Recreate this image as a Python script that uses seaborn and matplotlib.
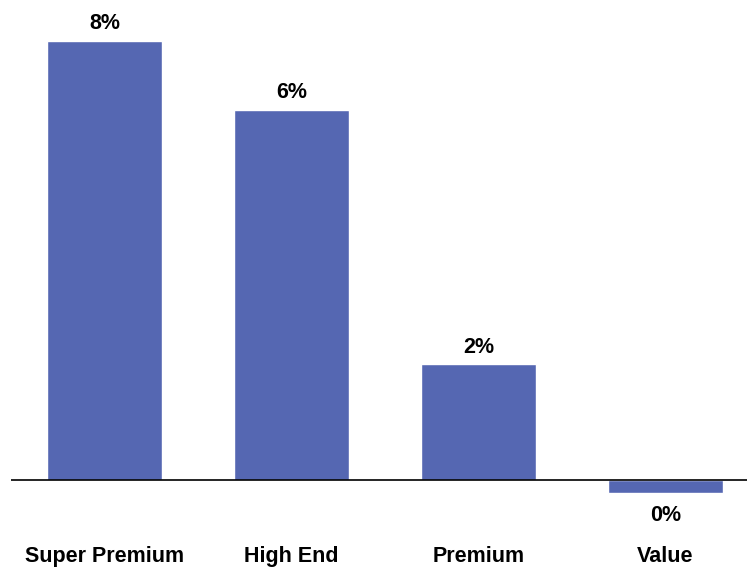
import matplotlib
matplotlib.use("Agg")
import matplotlib.pyplot as plt
import seaborn as sns
import pandas as pd

categories = ["Super Premium", "High End", "Premium", "Value"]
growth_pct = [7.6, 6.4, 2.0, -0.22]

BAR_COLOR = "#5567B2"


def main():
    sns.set_theme(style="white")
    plt.rcParams["font.family"] = ["Liberation Sans", "DejaVu Sans"]

    df = pd.DataFrame({"segment": categories, "growth": growth_pct})

    fig = plt.figure(figsize=(7.47, 5.68), dpi=100)
    # axes spans pixel rows 0..500 and columns 11..747
    ax = fig.add_axes([11 / 747, 68 / 568, 736 / 747, 500 / 568])

    sns.barplot(data=df, x="segment", y="growth", color=BAR_COLOR,
                width=0.615, saturation=1, ax=ax)

    ax.set_xlim(-0.5, 3.436)
    ax.set_ylim(-0.346, 8.31)
    ax.axhline(0, color="black", linewidth=1.2, zorder=3)

    labels = [f"{round(v)}%" for v in growth_pct]
    pos_labels = [l if v >= 0 else "" for l, v in zip(labels, growth_pct)]
    neg_labels = [l if v < 0 else "" for l, v in zip(labels, growth_pct)]
    ax.bar_label(ax.containers[0], labels=pos_labels, padding=5,
                 fontsize=15.5, fontweight="bold", color="black")
    ax.bar_label(ax.containers[0], labels=neg_labels, padding=9,
                 fontsize=15.5, fontweight="bold", color="black")

    for s in ax.spines.values():
        s.set_visible(False)
    ax.set_yticks([])
    ax.set_xlabel("")
    ax.set_ylabel("")
    ax.tick_params(axis="x", length=0, pad=33)
    for t in ax.get_xticklabels():
        t.set_fontsize(15.5)
        t.set_fontweight("bold")
        t.set_color("black")

    fig.savefig("out.png", dpi=100)
    plt.close(fig)


if __name__ == "__main__":
    main()
